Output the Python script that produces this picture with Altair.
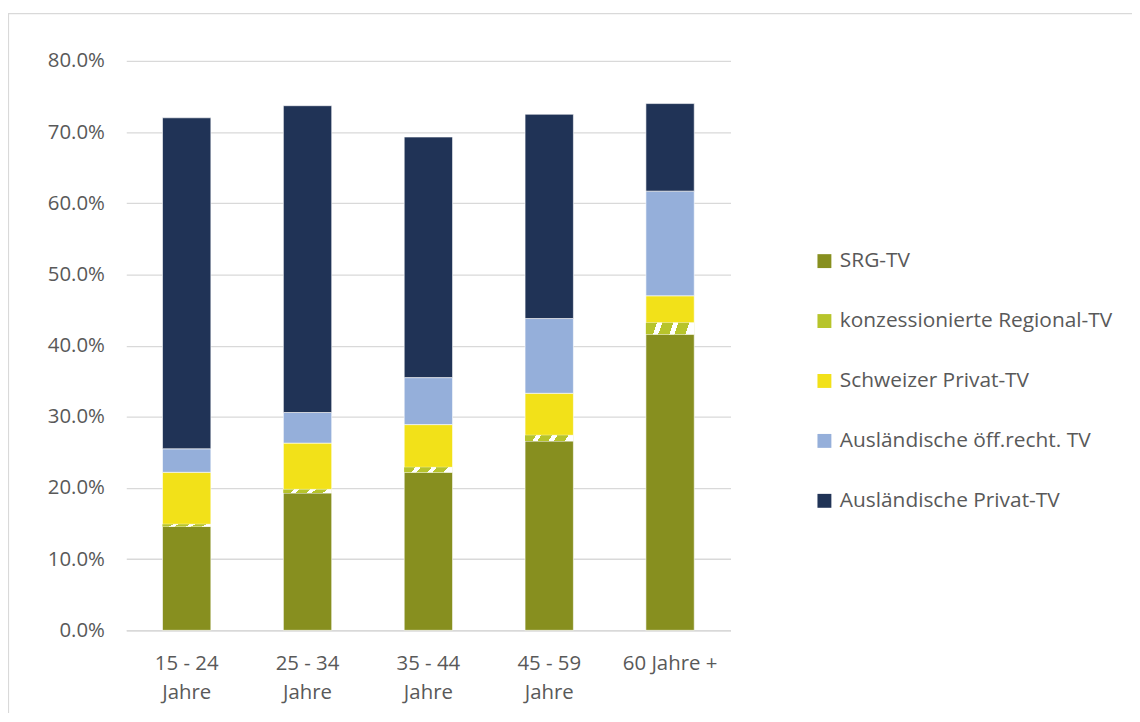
import altair as alt
import pandas as pd

groups = ["15 - 24\nJahre", "25 - 34\nJahre", "35 - 44\nJahre", "45 - 59\nJahre", "60 Jahre +"]
series = [
    "SRG-TV",
    "konzessionierte Regional-TV",
    "Schweizer Privat-TV",
    "Ausländische öff.recht. TV",
    "Ausländische Privat-TV",
]
srg = [14.6, 19.3, 22.2, 26.6, 41.6]
regional = [0.3, 0.5, 0.7, 0.8, 1.6]
ch_privat = [7.3, 6.5, 6.0, 5.9, 3.8]
ausl_oeff = [3.3, 4.3, 6.6, 10.5, 14.7]
ausl_privat = [46.5, 43.1, 33.8, 28.7, 12.3]
colors = ["#878F1F", "#B7C42B", "#F2E119", "#95AFDA", "#203356"]
y_ticks = [0, 0.1, 0.2, 0.3, 0.4, 0.5, 0.6, 0.7, 0.8]

values = [srg, regional, ch_privat, ausl_oeff, ausl_privat]
rows = []
for j, (name, vals) in enumerate(zip(series, values)):
    for g, v in zip(groups, vals):
        rows.append({"group": g, "series": name, "order": j, "value": v})
df = pd.DataFrame(rows)

TEXT = "#595959"
GRID = "#D9D9D9"
FONT = "Open Sans"
FS = 20.5
LFS = 21

base = alt.Chart(df).transform_calculate(
    v="datum.value / 100"
).transform_stack(
    stack="v", as_=["y0", "y1"], groupby=["group"],
    sort=[alt.SortField("order", order="ascending")]
)

x_enc = alt.X(
    "group:N", sort=groups, title=None,
    scale=alt.Scale(paddingInner=0.6, paddingOuter=0.3),
    axis=alt.Axis(
        labelAngle=0, ticks=False, tickSize=0, labelPadding=23,
        labelExpr="split(datum.label, '\\n')", labelLineHeight=30,
        labelBaseline="top", domainColor=GRID, domainWidth=1.5,
        labelFontSize=FS, labelColor=TEXT, labelFont=FONT,
    ),
)
y_enc = alt.Y(
    "y0:Q", title=None,
    scale=alt.Scale(domain=[0, 0.8]),
    axis=alt.Axis(
        values=y_ticks, format=".1%", ticks=False, tickSize=0, domain=False,
        labelPadding=22, gridColor=GRID, gridWidth=1.3,
        labelFontSize=FS, labelColor=TEXT, labelFont=FONT,
    ),
)

bars = base.mark_bar(stroke="white", strokeWidth=0.6).encode(
    x=x_enc,
    y=y_enc,
    y2="y1:Q",
    color=alt.Color(
        "series:N",
        scale=alt.Scale(domain=series, range=colors),
        legend=alt.Legend(
            title=None, orient="none", legendX=692, legendY=191,
            symbolType="square", symbolSize=196, symbolStrokeWidth=0,
            labelFontSize=LFS, labelColor=TEXT, labelFont=FONT,
            labelLimit=0, rowPadding=38.3, labelOffset=5, padding=0,
        ),
    ),
)

stops = []
n = 3
for k in range(n):
    a = k / n
    b = (k + 0.68) / n
    c = (k + 1) / n
    stops += [
        {"offset": a, "color": "#B7C42B"},
        {"offset": b, "color": "#B7C42B"},
        {"offset": b, "color": "#FFFFFF"},
        {"offset": c, "color": "#FFFFFF"},
    ]
hatch_fill = {"gradient": "linear", "x1": 0, "y1": 0, "x2": 1, "y2": 0.08, "stops": stops}

hatch = base.transform_filter(
    alt.datum.series == series[1]
).mark_bar(color=hatch_fill).encode(
    x=alt.X("group:N", sort=groups),
    y="y0:Q",
    y2="y1:Q",
)

frame = alt.Chart(pd.DataFrame({"k": [0]})).mark_rect(
    filled=False, stroke=GRID, strokeWidth=1.2
).encode(
    x=alt.value(-118.5), x2=alt.value(1100),
    y=alt.value(-47.5), y2=alt.value(760),
)

chart = alt.layer(frame, bars, hatch).properties(
    width=608, height=573,
    autosize=alt.AutoSizeParams(type="none"),
    padding={"left": 119, "top": 51, "right": 404, "bottom": 81},
).configure(font=FONT).configure_view(strokeWidth=0, stroke="transparent")

chart.save("out.html", embed_options={"renderer": "svg", "actions": False})
